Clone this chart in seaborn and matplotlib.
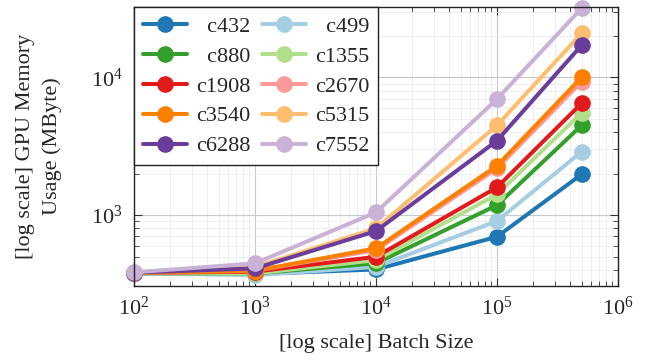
import numpy as np
import pandas as pd
import matplotlib
matplotlib.use("Agg")
import matplotlib.pyplot as plt
import seaborn as sns

batch_sizes = [1e2, 1e3, 1e4, 1e5, 5e5]
circuits = ["c432", "c499", "c880", "c1355", "c1908", "c2670", "c3540", "c5315", "c6288", "c7552"]
memory = {
    "c432":  [378, 373, 403, 696, 1975],
    "c499":  [378, 366, 421, 905, 2880],
    "c880":  [378, 377, 446, 1180, 4480],
    "c1355": [378, 377, 471, 1413, 5530],
    "c1908": [380, 388, 498, 1590, 6480],
    "c2670": [380, 394, 557, 2180, 9300],
    "c3540": [380, 394, 573, 2280, 10000],
    "c5315": [382, 420, 800, 4480, 20900],
    "c6288": [382, 410, 765, 3470, 17100],
    "c7552": [384, 446, 1046, 6960, 31700],
}
colors = ["#1f78b4", "#a6cee3", "#33a02c", "#b2df8a", "#e31a1c",
          "#fb9a99", "#ff7f00", "#fdbf6f", "#6a3d9a", "#cab2d6"]

rows = []
for c in circuits:
    for b, m in zip(batch_sizes, memory[c]):
        rows.append({"batch": b, "mem": m, "circuit": c})
df = pd.DataFrame(rows)

sns.set_style("ticks")
plt.rcParams["font.family"] = ["Liberation Serif", "DejaVu Serif"]
plt.rcParams["mathtext.fontset"] = "stix"

fig = plt.figure(figsize=(6.52, 3.6), dpi=100)
ax = fig.add_axes([0.2055, 0.2064, 0.7423, 0.7733])

palette = dict(zip(circuits, colors))
sns.lineplot(data=df, x="batch", y="mem", hue="circuit", hue_order=circuits,
             palette=palette, marker="o", markersize=12, markeredgewidth=0,
             linewidth=2.9, ax=ax, legend=True, clip_on=False)

ax.set_xscale("log")
ax.set_yscale("log")
ax.set_xlim(1e2, 1e6)
ax.set_ylim(307, 32300)

ax.set_xticks([1e2, 1e3, 1e4, 1e5, 1e6])
ax.set_yticks([1e3, 1e4])
ax.tick_params(which="major", direction="in", length=6, width=0.8, top=True, right=True,
               labelsize=16, pad=8, color="#333333")
ax.tick_params(which="minor", direction="in", length=3.5, width=0.6, top=True, right=True,
               color="#333333")
ax.grid(True, which="major", color="#c8c8c8", linewidth=0.8)
ax.grid(True, which="minor", color="#ececec", linewidth=0.6)
ax.set_axisbelow(True)
for s in ax.spines.values():
    s.set_linewidth(1.0)
    s.set_color("#222222")

ax.set_xlabel("[log scale] Batch Size", fontsize=16, labelpad=10)
ax.set_ylabel("[log scale] GPU Memory\nUsage (MByte)", fontsize=16, labelpad=21,
              linespacing=1.5)

handles, labels = ax.get_legend_handles_labels()
hmap = dict(zip(labels, handles))
order = ["c432", "c880", "c1908", "c3540", "c6288", "c499", "c1355", "c2670", "c5315", "c7552"]
maxlen = max(len(o) for o in order)
disp = ["\u2007" * (maxlen - len(o)) + o for o in order]
leg = ax.legend([hmap[o] for o in order], disp, ncol=2, loc="upper left",
                fontsize=16, frameon=True, fancybox=False, edgecolor="#222222",
                framealpha=1.0, handlelength=2.0, handletextpad=0.4,
                columnspacing=0.5, labelspacing=0.42, borderpad=0.4,
                borderaxespad=0.0)
leg.get_frame().set_linewidth(1.0)

fig.savefig("out.png", dpi=100)
